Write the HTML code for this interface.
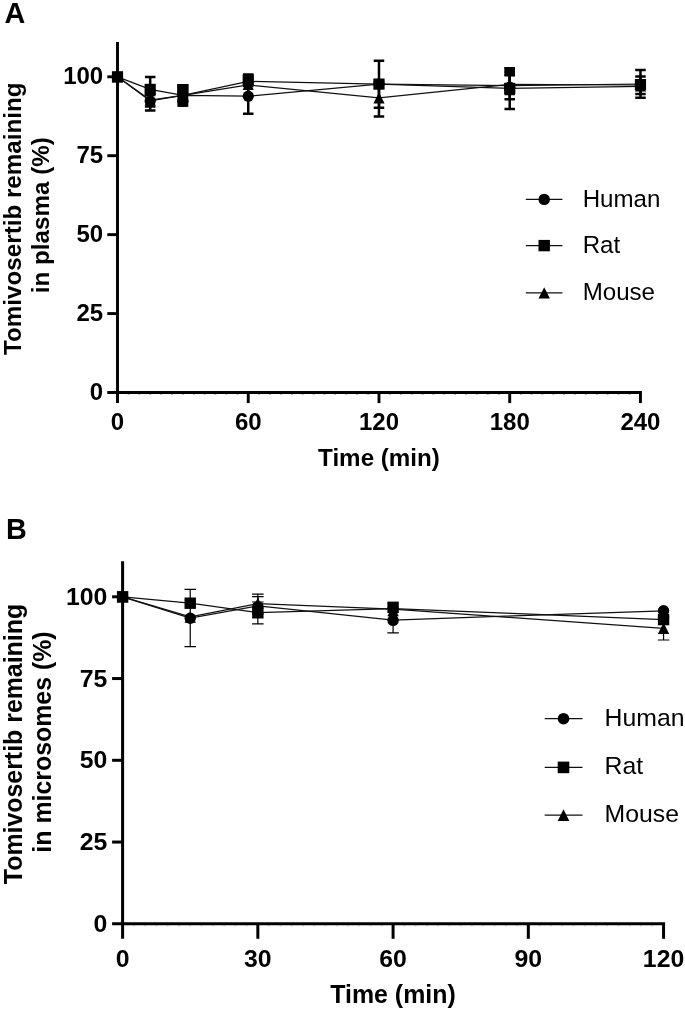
<!DOCTYPE html>
<html><head><meta charset="utf-8"><title>Figure</title>
<style>html,body{margin:0;padding:0;background:#fff}svg{display:block;filter:blur(0.45px)}</style></head>
<body>
<svg width="685" height="1010" viewBox="0 0 685 1010">
<rect width="685" height="1010" fill="#fff"/>
<polyline points="117.50,76.80 150.19,100.90 182.87,95.30 248.24,96.20 378.98,84.10 509.72,85.50 640.46,84.00" fill="none" stroke="#111" stroke-width="1.25"/>
<polyline points="117.50,76.80 150.19,89.40 182.87,95.30 248.24,81.30 378.98,84.10 509.72,88.40 640.46,86.30" fill="none" stroke="#111" stroke-width="1.25"/>
<polyline points="117.50,76.80 150.19,100.00 182.87,95.30 248.24,85.00 378.98,97.80 509.72,84.30 640.46,85.00" fill="none" stroke="#111" stroke-width="1.25"/>
<path d="M150.19 77.10V101.00M144.94 77.10H155.44M144.94 101.00H155.44" stroke="#000" stroke-width="2.5" fill="none"/>
<path d="M150.19 91.00V110.50M144.94 91.00H155.44M144.94 110.50H155.44" stroke="#000" stroke-width="2.5" fill="none"/>
<path d="M150.19 95.00V106.60M144.94 95.00H155.44M144.94 106.60H155.44" stroke="#000" stroke-width="2.5" fill="none"/>
<path d="M248.24 74.40V86.00M242.99 74.40H253.49M242.99 86.00H253.49" stroke="#000" stroke-width="2.5" fill="none"/>
<path d="M248.24 79.00V113.70M242.99 79.00H253.49M242.99 113.70H253.49" stroke="#000" stroke-width="2.5" fill="none"/>
<path d="M378.98 60.70V107.80M373.73 60.70H384.23M373.73 107.80H384.23" stroke="#000" stroke-width="2.5" fill="none"/>
<path d="M378.98 82.00V116.50M373.73 82.00H384.23M373.73 116.50H384.23" stroke="#000" stroke-width="2.5" fill="none"/>
<path d="M509.72 68.20V108.90M504.47 68.20H514.97M504.47 108.90H514.97" stroke="#000" stroke-width="2.5" fill="none"/>
<path d="M509.72 71.70V99.30M504.47 71.70H514.97M504.47 99.30H514.97" stroke="#000" stroke-width="2.5" fill="none"/>
<path d="M509.72 75.00V94.00M504.47 75.00H514.97M504.47 94.00H514.97" stroke="#000" stroke-width="2.5" fill="none"/>
<path d="M640.46 70.00V97.70M635.21 70.00H645.71M635.21 97.70H645.71" stroke="#000" stroke-width="2.5" fill="none"/>
<path d="M640.46 76.40V93.90M635.21 76.40H645.71M635.21 93.90H645.71" stroke="#000" stroke-width="2.5" fill="none"/>
<rect x="177.4" y="84.1" width="10.9" height="22.8" fill="#000"/>
<rect x="504.45" y="67.0" width="10.5" height="9.4" fill="#000"/>
<g fill="#000">
<circle cx="117.50" cy="76.80" r="5.60"/>
<circle cx="150.19" cy="100.90" r="5.60"/>
<circle cx="182.87" cy="101.30" r="5.60"/>
<circle cx="248.24" cy="96.20" r="5.60"/>
<circle cx="378.98" cy="84.10" r="5.60"/>
<circle cx="509.72" cy="87.20" r="5.60"/>
<circle cx="640.46" cy="85.00" r="5.60"/>
<path d="M117.50 71.20L123.10 82.40L111.90 82.40Z"/>
<path d="M150.19 94.40L155.78 105.60L144.59 105.60Z"/>
<path d="M182.87 89.70L188.47 100.90L177.27 100.90Z"/>
<path d="M248.24 78.80L253.84 90.00L242.64 90.00Z"/>
<path d="M378.98 92.20L384.58 103.40L373.38 103.40Z"/>
<path d="M509.72 79.90L515.32 91.10L504.12 91.10Z"/>
<path d="M640.46 80.40L646.06 91.60L634.86 91.60Z"/>
<rect x="111.90" y="71.20" width="11.20" height="11.20"/>
<rect x="144.59" y="83.80" width="11.20" height="11.20"/>
<rect x="177.27" y="84.00" width="11.20" height="11.20"/>
<rect x="242.64" y="74.40" width="11.20" height="11.20"/>
<rect x="373.38" y="78.50" width="11.20" height="11.20"/>
<rect x="504.12" y="82.80" width="11.20" height="11.20"/>
<rect x="634.86" y="79.00" width="11.20" height="11.20"/>
</g>
<path d="M117.50 42.00V403.10M107.30 392.50H641.91" stroke="#000" stroke-width="2.9" fill="none"/>
<path d="M128.40 392.50v2.35M139.29 392.50v2.35M150.19 392.50v2.35M161.08 392.50v2.35M171.97 392.50v2.35M182.87 392.50v2.35M193.76 392.50v2.35M204.66 392.50v2.35M215.56 392.50v2.35M226.45 392.50v2.35M237.34 392.50v2.35M248.24 392.50v2.35M259.13 392.50v2.35M270.03 392.50v2.35M280.92 392.50v2.35M291.82 392.50v2.35M302.71 392.50v2.35M313.61 392.50v2.35M324.50 392.50v2.35M335.40 392.50v2.35M346.29 392.50v2.35M357.19 392.50v2.35M368.08 392.50v2.35M378.98 392.50v2.35M389.88 392.50v2.35M400.77 392.50v2.35M411.66 392.50v2.35M422.56 392.50v2.35M433.45 392.50v2.35M444.35 392.50v2.35M455.24 392.50v2.35M466.14 392.50v2.35M477.03 392.50v2.35M487.93 392.50v2.35M498.82 392.50v2.35M509.72 392.50v2.35M520.62 392.50v2.35M531.51 392.50v2.35M542.40 392.50v2.35M553.30 392.50v2.35M564.19 392.50v2.35M575.09 392.50v2.35M585.98 392.50v2.35M596.88 392.50v2.35M607.77 392.50v2.35M618.67 392.50v2.35M629.56 392.50v2.35" stroke="#000" stroke-width="1.6" opacity="0.45" fill="none"/>
<text x="103.20" y="400.19" text-anchor="end" font-family="Liberation Sans, sans-serif" font-weight="bold" font-size="24">0</text>
<path d="M107.30 313.57H117.50" stroke="#000" stroke-width="2.9"/>
<text x="103.20" y="321.27" text-anchor="end" font-family="Liberation Sans, sans-serif" font-weight="bold" font-size="24">25</text>
<path d="M107.30 234.65H117.50" stroke="#000" stroke-width="2.9"/>
<text x="103.20" y="242.34" text-anchor="end" font-family="Liberation Sans, sans-serif" font-weight="bold" font-size="24">50</text>
<path d="M107.30 155.72H117.50" stroke="#000" stroke-width="2.9"/>
<text x="103.20" y="163.42" text-anchor="end" font-family="Liberation Sans, sans-serif" font-weight="bold" font-size="24">75</text>
<path d="M107.30 76.80H117.50" stroke="#000" stroke-width="2.9"/>
<text x="103.20" y="84.49" text-anchor="end" font-family="Liberation Sans, sans-serif" font-weight="bold" font-size="24">100</text>
<text x="117.50" y="430.00" text-anchor="middle" font-family="Liberation Sans, sans-serif" font-weight="bold" font-size="24">0</text>
<path d="M248.24 392.50V403.10" stroke="#000" stroke-width="2.9"/>
<text x="248.24" y="430.00" text-anchor="middle" font-family="Liberation Sans, sans-serif" font-weight="bold" font-size="24">60</text>
<path d="M378.98 392.50V403.10" stroke="#000" stroke-width="2.9"/>
<text x="378.98" y="430.00" text-anchor="middle" font-family="Liberation Sans, sans-serif" font-weight="bold" font-size="24">120</text>
<path d="M509.72 392.50V403.10" stroke="#000" stroke-width="2.9"/>
<text x="509.72" y="430.00" text-anchor="middle" font-family="Liberation Sans, sans-serif" font-weight="bold" font-size="24">180</text>
<path d="M640.46 392.50V403.10" stroke="#000" stroke-width="2.9"/>
<text x="640.46" y="430.00" text-anchor="middle" font-family="Liberation Sans, sans-serif" font-weight="bold" font-size="24">240</text>
<text x="379.00" y="465.70" text-anchor="middle" font-family="Liberation Sans, sans-serif" font-weight="bold" font-size="24.2">Time (min)</text>
<text transform="translate(20.80 218.70) rotate(-90)" text-anchor="middle" font-family="Liberation Sans, sans-serif" font-weight="bold" font-size="24.2">Tomivosertib remaining</text>
<text transform="translate(48.60 215.20) rotate(-90)" text-anchor="middle" font-family="Liberation Sans, sans-serif" font-weight="bold" font-size="24.2">in plasma (%)</text>
<text x="4.4" y="23.4" font-family="Liberation Sans, sans-serif" font-weight="bold" font-size="28.8">A</text>
<path d="M525.8 199.4H562.4" stroke="#111" stroke-width="1.25"/>
<g fill="#000"><circle cx="544.20" cy="199.40" r="5.70"/></g>
<text x="582.7" y="206.5" font-family="Liberation Sans, sans-serif" font-size="24.1">Human</text>
<path d="M525.8 245.6H562.4" stroke="#111" stroke-width="1.25"/>
<g fill="#000"><rect x="538.50" y="239.90" width="11.40" height="11.40"/></g>
<text x="582.7" y="253.0" font-family="Liberation Sans, sans-serif" font-size="24.1">Rat</text>
<path d="M525.8 292.9H562.4" stroke="#111" stroke-width="1.25"/>
<g fill="#000"><path d="M544.20 287.20L549.90 298.60L538.50 298.60Z"/></g>
<text x="582.7" y="299.8" font-family="Liberation Sans, sans-serif" font-size="24.1">Mouse</text>
<polyline points="122.60,596.80 190.22,618.00 257.84,605.80 393.08,620.00 663.56,610.80" fill="none" stroke="#111" stroke-width="1.25"/>
<polyline points="122.60,596.80 190.22,603.20 257.84,612.60 393.08,608.60 663.56,619.60" fill="none" stroke="#111" stroke-width="1.25"/>
<polyline points="122.60,596.80 190.22,616.80 257.84,603.60 393.08,609.20 663.56,628.40" fill="none" stroke="#111" stroke-width="1.25"/>
<path d="M190.22 589.40V646.60M184.47 589.40H195.97M184.47 646.60H195.97" stroke="#000" stroke-width="1.2" fill="none"/>
<path d="M257.84 594.10V613.00M252.09 594.10H263.59M252.09 613.00H263.59" stroke="#000" stroke-width="1.2" fill="none"/>
<path d="M257.84 596.70V614.00M252.09 596.70H263.59M252.09 614.00H263.59" stroke="#000" stroke-width="1.2" fill="none"/>
<path d="M257.84 602.00V623.80M252.09 602.00H263.59M252.09 623.80H263.59" stroke="#000" stroke-width="1.2" fill="none"/>
<path d="M393.08 608.00V632.80M387.33 608.00H398.83M387.33 632.80H398.83" stroke="#000" stroke-width="1.2" fill="none"/>
<path d="M663.56 617.00V640.00M657.81 617.00H669.31M657.81 640.00H669.31" stroke="#000" stroke-width="1.2" fill="none"/>
<g fill="#000">
<circle cx="122.60" cy="596.80" r="5.70"/>
<circle cx="190.22" cy="618.30" r="5.70"/>
<circle cx="257.84" cy="606.60" r="5.70"/>
<circle cx="393.08" cy="620.40" r="5.70"/>
<circle cx="663.56" cy="610.80" r="5.70"/>
<path d="M122.60 591.10L128.30 602.50L116.90 602.50Z"/>
<path d="M190.22 611.30L195.92 622.70L184.52 622.70Z"/>
<path d="M257.84 597.60L263.54 609.00L252.14 609.00Z"/>
<path d="M393.08 604.90L398.78 616.30L387.38 616.30Z"/>
<path d="M663.56 622.70L669.26 634.10L657.86 634.10Z"/>
<rect x="116.90" y="591.10" width="11.40" height="11.40"/>
<rect x="184.52" y="597.50" width="11.40" height="11.40"/>
<rect x="252.14" y="607.10" width="11.40" height="11.40"/>
<rect x="387.38" y="601.60" width="11.40" height="11.40"/>
<rect x="657.86" y="613.90" width="11.40" height="11.40"/>
</g>
<path d="M122.60 561.30V938.80M112.10 923.80H665.06" stroke="#000" stroke-width="3.0" fill="none"/>
<path d="M133.87 923.80v2.40M145.14 923.80v2.40M156.41 923.80v2.40M167.68 923.80v2.40M178.95 923.80v2.40M190.22 923.80v2.40M201.49 923.80v2.40M212.76 923.80v2.40M224.03 923.80v2.40M235.30 923.80v2.40M246.57 923.80v2.40M257.84 923.80v2.40M269.11 923.80v2.40M280.38 923.80v2.40M291.65 923.80v2.40M302.92 923.80v2.40M314.19 923.80v2.40M325.46 923.80v2.40M336.73 923.80v2.40M348.00 923.80v2.40M359.27 923.80v2.40M370.54 923.80v2.40M381.81 923.80v2.40M393.08 923.80v2.40M404.35 923.80v2.40M415.62 923.80v2.40M426.89 923.80v2.40M438.16 923.80v2.40M449.43 923.80v2.40M460.70 923.80v2.40M471.97 923.80v2.40M483.24 923.80v2.40M494.51 923.80v2.40M505.78 923.80v2.40M517.05 923.80v2.40M528.32 923.80v2.40M539.59 923.80v2.40M550.86 923.80v2.40M562.13 923.80v2.40M573.40 923.80v2.40M584.67 923.80v2.40M595.94 923.80v2.40M607.21 923.80v2.40M618.48 923.80v2.40M629.75 923.80v2.40M641.02 923.80v2.40M652.29 923.80v2.40" stroke="#000" stroke-width="1.6" opacity="0.22" fill="none"/>
<text x="107.30" y="931.78" text-anchor="end" font-family="Liberation Sans, sans-serif" font-weight="bold" font-size="24.8">0</text>
<path d="M112.10 842.05H122.60" stroke="#000" stroke-width="3.0"/>
<text x="107.30" y="850.03" text-anchor="end" font-family="Liberation Sans, sans-serif" font-weight="bold" font-size="24.8">25</text>
<path d="M112.10 760.30H122.60" stroke="#000" stroke-width="3.0"/>
<text x="107.30" y="768.28" text-anchor="end" font-family="Liberation Sans, sans-serif" font-weight="bold" font-size="24.8">50</text>
<path d="M112.10 678.55H122.60" stroke="#000" stroke-width="3.0"/>
<text x="107.30" y="686.53" text-anchor="end" font-family="Liberation Sans, sans-serif" font-weight="bold" font-size="24.8">75</text>
<path d="M112.10 596.80H122.60" stroke="#000" stroke-width="3.0"/>
<text x="107.30" y="604.78" text-anchor="end" font-family="Liberation Sans, sans-serif" font-weight="bold" font-size="24.8">100</text>
<text x="122.60" y="967.00" text-anchor="middle" font-family="Liberation Sans, sans-serif" font-weight="bold" font-size="24.8">0</text>
<path d="M257.84 923.80V938.80" stroke="#000" stroke-width="3.0"/>
<text x="257.84" y="967.00" text-anchor="middle" font-family="Liberation Sans, sans-serif" font-weight="bold" font-size="24.8">30</text>
<path d="M393.08 923.80V938.80" stroke="#000" stroke-width="3.0"/>
<text x="393.08" y="967.00" text-anchor="middle" font-family="Liberation Sans, sans-serif" font-weight="bold" font-size="24.8">60</text>
<path d="M528.32 923.80V938.80" stroke="#000" stroke-width="3.0"/>
<text x="528.32" y="967.00" text-anchor="middle" font-family="Liberation Sans, sans-serif" font-weight="bold" font-size="24.8">90</text>
<path d="M663.56 923.80V938.80" stroke="#000" stroke-width="3.0"/>
<text x="663.56" y="967.00" text-anchor="middle" font-family="Liberation Sans, sans-serif" font-weight="bold" font-size="24.8">120</text>
<text x="393.00" y="1003.00" text-anchor="middle" font-family="Liberation Sans, sans-serif" font-weight="bold" font-size="24.9">Time (min)</text>
<text transform="translate(22.30 744.00) rotate(-90)" text-anchor="middle" font-family="Liberation Sans, sans-serif" font-weight="bold" font-size="24.9">Tomivosertib remaining</text>
<text transform="translate(51.30 742.00) rotate(-90)" text-anchor="middle" font-family="Liberation Sans, sans-serif" font-weight="bold" font-size="24.9">in microsomes (%)</text>
<text x="6.1" y="539.2" font-family="Liberation Sans, sans-serif" font-weight="bold" font-size="28.8">B</text>
<path d="M544.7 718.7H582.5" stroke="#111" stroke-width="1.25"/>
<g fill="#000"><circle cx="563.50" cy="718.70" r="5.80"/></g>
<text x="604.6" y="725.8" font-family="Liberation Sans, sans-serif" font-size="24.8">Human</text>
<path d="M544.7 767.4H582.5" stroke="#111" stroke-width="1.25"/>
<g fill="#000"><rect x="557.70" y="761.60" width="11.60" height="11.60"/></g>
<text x="604.6" y="774.2" font-family="Liberation Sans, sans-serif" font-size="24.8">Rat</text>
<path d="M544.7 815.1H582.5" stroke="#111" stroke-width="1.25"/>
<g fill="#000"><path d="M563.50 809.30L569.30 820.90L557.70 820.90Z"/></g>
<text x="604.6" y="822.4" font-family="Liberation Sans, sans-serif" font-size="24.8">Mouse</text>
</svg>
</body></html>
